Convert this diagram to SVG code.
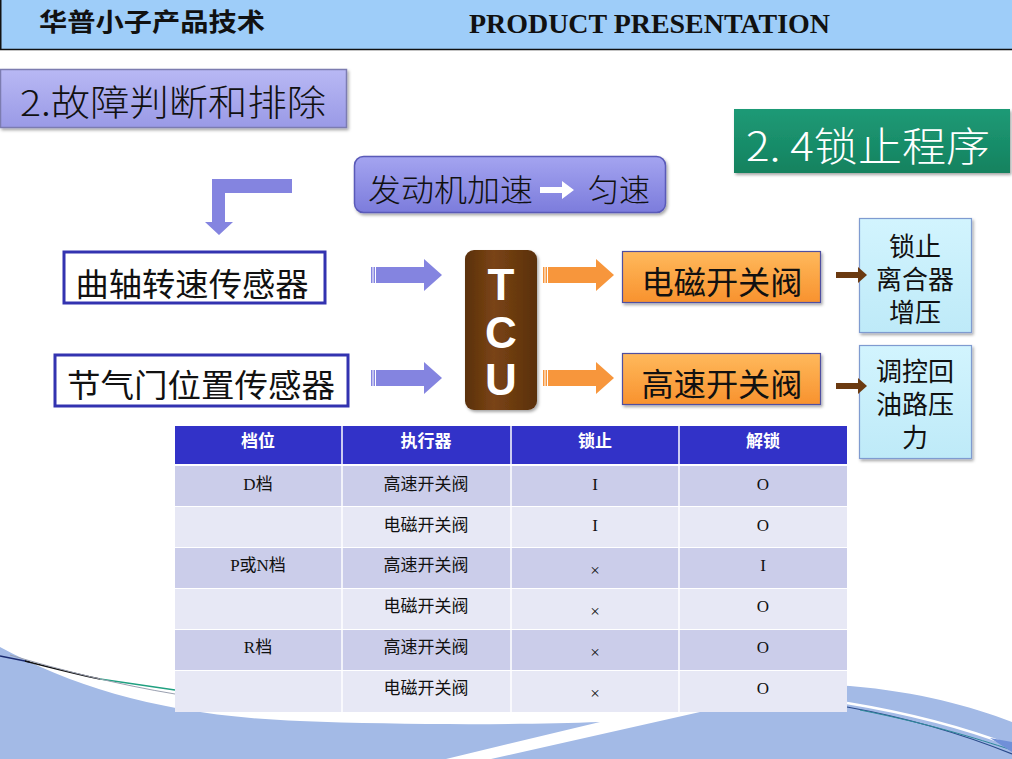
<svg xmlns="http://www.w3.org/2000/svg" width="1012" height="759" viewBox="0 0 1012 759">
<defs>
<style>
.cjk{font-family:"Noto Sans CJK SC","Noto Sans",sans-serif}
.tb{font-family:"Liberation Serif","Noto Sans CJK SC",serif;font-size:17px;text-anchor:middle;fill:#111}
.th{font-family:"Liberation Serif","Noto Sans CJK SC",serif;font-size:17px;font-weight:bold;text-anchor:middle;fill:#fff}
.dark{fill:#CBCDEA}
.light{fill:#E7E8F5}
.blueArrow{fill:#8484E0}
.orangeArrow{fill:#F7963C}
.brownArrow{fill:#6B3A10}
.sensor{fill:#fff;stroke:#3333B0;stroke-width:3}
.valve{fill:url(#gOrange);stroke:#4F4FA0;stroke-width:1.2}
.result{fill:url(#gCyan);stroke:#7F9BD0;stroke-width:1.2}
.big{font-size:32px;text-anchor:middle;fill:#111}
.res{font-size:26px;text-anchor:middle;fill:#111}
</style>
<linearGradient id="gLav" x1="0" y1="0" x2="0" y2="1">
<stop offset="0" stop-color="#B8B8F4"/><stop offset="1" stop-color="#9A9AE6"/>
</linearGradient>
<linearGradient id="gLav2" x1="0" y1="0" x2="0" y2="1">
<stop offset="0" stop-color="#A4A4F0"/><stop offset="1" stop-color="#7C7CDC"/>
</linearGradient>
<linearGradient id="gOrange" x1="0" y1="0" x2="0" y2="1">
<stop offset="0" stop-color="#FFB95C"/><stop offset="1" stop-color="#F8922E"/>
</linearGradient>
<linearGradient id="gCyan" x1="0" y1="0" x2="0" y2="1">
<stop offset="0" stop-color="#D2F4FE"/><stop offset="1" stop-color="#BEEAF8"/>
</linearGradient>
<linearGradient id="gBrown" x1="0" y1="0" x2="1" y2="0">
<stop offset="0" stop-color="#5A300C"/><stop offset="0.4" stop-color="#7A4414"/><stop offset="1" stop-color="#5A300C"/>
</linearGradient>
<linearGradient id="gGreen" x1="0" y1="0" x2="0" y2="1">
<stop offset="0" stop-color="#1E9A76"/><stop offset="1" stop-color="#14825F"/>
</linearGradient>
<filter id="sh" x="-10%" y="-10%" width="130%" height="140%">
<feDropShadow dx="1.5" dy="2" stdDeviation="1.5" flood-color="#000" flood-opacity="0.35"/>
</filter>
</defs>

<rect width="1012" height="759" fill="#fff"/>

<!-- bottom decoration -->
<g id="wave">
<path d="M0,647 C80,690 170,716 300,721 C400,725 520,725 600,722 L446,759 L0,759 Z" fill="#A3BAE6"/>
<path d="M491,759 L700,712 L720,696 C770,686 820,684 850,686 C920,692 970,706 1012,722 L1012,759 Z" fill="#A3BAE6"/>
<path d="M847,703 C920,715 970,730 1012,746" fill="none" stroke="#fff" stroke-width="2.5"/>
<path d="M847,707 C920,720 970,737 1012,754" fill="none" stroke="#2A4A8A" stroke-width="1.2"/>
<path d="M860,710 C930,724 975,738 1012,750" fill="none" stroke="#2E8A9A" stroke-width="1"/>
<path d="M990,738 L1012,742 L1012,752 Z" fill="#7090D8"/>
<path d="M0,656 L30,662" stroke="#1A2A70" stroke-width="1.5" fill="none"/>
<path d="M25,661 C60,670 85,676 100,679" stroke="#111" stroke-width="1.5" fill="none"/>
<path d="M100,679 L175,690" stroke="#20A080" stroke-width="1.3" fill="none"/>
<path d="M10,655 C60,670 120,685 175,694" stroke="#9AA0B0" stroke-width="1" fill="none"/>
</g>

<!-- header -->
<g id="header">
<rect x="0" y="0" width="1012" height="49" fill="#9ECDF9"/>
<line x1="0" y1="49.5" x2="1012" y2="49.5" stroke="#111" stroke-width="1.5"/>
<line x1="0.75" y1="0" x2="0.75" y2="50" stroke="#111" stroke-width="1.5"/>
<text x="39" y="31" class="cjk" font-size="25" font-weight="bold" fill="#111" textLength="226" lengthAdjust="spacingAndGlyphs">华普小子产品技术</text>
<text x="469" y="33" font-family="Liberation Serif, serif" font-size="27" font-weight="bold" fill="#111" textLength="361" lengthAdjust="spacingAndGlyphs">PRODUCT PRESENTATION</text>
</g>

<g id="section-title">
<rect x="0.5" y="69.5" width="346" height="58" fill="url(#gLav)" stroke="#7C7CB0" stroke-width="1.5" filter="url(#sh)"/>
<text x="20" y="116" class="cjk" font-size="36" font-weight="300" fill="#111" textLength="306" lengthAdjust="spacingAndGlyphs">2.故障判断和排除</text>
</g>

<g id="subtitle">
<rect x="734" y="109" width="276" height="64" fill="url(#gGreen)" filter="url(#sh)"/>
<text x="746" y="161" class="cjk" font-size="40" font-weight="300" fill="#fff" textLength="244" lengthAdjust="spacingAndGlyphs">2. 4锁止程序</text>
</g>

<g id="condition">
<rect x="354.5" y="156.5" width="311" height="56" rx="9" fill="url(#gLav2)" stroke="#5A5AB8" stroke-width="1.5" filter="url(#sh)"/>
<text x="368" y="201" class="cjk" font-size="31" font-weight="300" fill="#111" textLength="165" lengthAdjust="spacingAndGlyphs">发动机加速</text>
<path d="M540,187 L562,187 L562,181 L574,190 L562,199 L562,193 L540,193 Z" fill="#fff"/>
<text x="588" y="201" class="cjk" font-size="31" font-weight="300" fill="#111" textLength="62" lengthAdjust="spacingAndGlyphs">匀速</text>
</g>

<g id="sensor-crank">
<rect x="64" y="252" width="261" height="51" class="sensor"/>
<text x="192" y="296" class="cjk big" textLength="233" lengthAdjust="spacingAndGlyphs">曲轴转速传感器</text>
</g>
<g id="sensor-throttle">
<rect x="55" y="355" width="293" height="51" class="sensor"/>
<text x="201" y="397" class="cjk big" textLength="268" lengthAdjust="spacingAndGlyphs">节气门位置传感器</text>
</g>

<g id="tcu">
<rect x="465" y="250" width="72" height="160" rx="9" fill="url(#gBrown)" filter="url(#sh)"/>
<g font-family="Liberation Sans, Arial, sans-serif" font-size="44" font-weight="bold" fill="#fff" text-anchor="middle">
<text x="501" y="300">T</text>
<text x="501" y="348">C</text>
<text x="501" y="395">U</text>
</g>
</g>

<g id="valve-solenoid">
<rect x="622.5" y="251.5" width="198" height="51" class="valve" filter="url(#sh)"/>
<text x="722" y="294" class="cjk big" textLength="161" lengthAdjust="spacingAndGlyphs">电磁开关阀</text>
</g>
<g id="valve-highspeed">
<rect x="622.5" y="353.5" width="198" height="51" class="valve" filter="url(#sh)"/>
<text x="722" y="396" class="cjk big" textLength="161" lengthAdjust="spacingAndGlyphs">高速开关阀</text>
</g>

<g id="result-lockup">
<rect x="859.5" y="218.5" width="112" height="114" class="result" filter="url(#sh)"/>
<text class="cjk res" x="915" y="256"><tspan x="915" y="256">锁止</tspan><tspan x="915" y="289">离合器</tspan><tspan x="915" y="322">增压</tspan></text>
</g>
<g id="result-oil">
<rect x="859.5" y="345.5" width="112" height="113" class="result" filter="url(#sh)"/>
<text class="cjk res" x="915" y="381"><tspan x="915" y="381">调控回</tspan><tspan x="915" y="414">油路压</tspan><tspan x="915" y="447">力</tspan></text>
</g>

<!-- connectors -->
<g id="connectors">
<path class="blueArrow" d="M212,179 L292,179 L292,193 L225,193 L225,222 L233,222 L219,235 L205,222 L212,222 Z"/>
<g class="blueArrow">
<rect x="371" y="267" width="1.5" height="16"/><rect x="373.5" y="267" width="1.5" height="16"/>
<path d="M376,267 L424,267 L424,259 L442,275 L424,291 L424,283 L376,283 Z"/>
<rect x="371" y="370" width="1.5" height="16"/><rect x="373.5" y="370" width="1.5" height="16"/>
<path d="M376,370 L424,370 L424,362 L442,378 L424,394 L424,386 L376,386 Z"/>
</g>
<g class="orangeArrow">
<rect x="543" y="267" width="1.5" height="16"/><rect x="545.5" y="267" width="1.5" height="16"/>
<path d="M548,267 L596,267 L596,259 L614,275 L596,291 L596,283 L548,283 Z"/>
<rect x="543" y="370" width="1.5" height="16"/><rect x="545.5" y="370" width="1.5" height="16"/>
<path d="M548,370 L596,370 L596,362 L614,378 L596,394 L596,386 L548,386 Z"/>
</g>
<g class="brownArrow">
<path d="M836,272 L858,272 L858,267 L867,275 L858,283 L858,278 L836,278 Z"/>
<path d="M836,383 L858,383 L858,378 L867,386 L858,394 L858,389 L836,389 Z"/>
</g>
</g>

<!-- table -->
<g id="table">
<rect x="175" y="426" width="672" height="38" fill="#3232C8"/>
<rect x="175" y="466" width="672" height="40" class="dark"/>
<rect x="175" y="507" width="672" height="40" class="light"/>
<rect x="175" y="548" width="672" height="40" class="dark"/>
<rect x="175" y="589" width="672" height="40" class="light"/>
<rect x="175" y="630" width="672" height="40" class="dark"/>
<rect x="175" y="671" width="672" height="41" class="light"/>
<g stroke="#fff" stroke-width="1.5">
<line x1="342" y1="426" x2="342" y2="712"/>
<line x1="511" y1="426" x2="511" y2="712"/>
<line x1="679" y1="426" x2="679" y2="712"/>
</g>
<text x="258" y="447" class="th">档位</text>
<text x="426" y="447" class="th">执行器</text>
<text x="595" y="447" class="th">锁止</text>
<text x="763" y="447" class="th">解锁</text>

<text x="258" y="490" class="tb">D档</text>
<text x="426" y="490" class="tb">高速开关阀</text>
<text x="595" y="490" class="tb">I</text>
<text x="763" y="490" class="tb">O</text>

<text x="426" y="531" class="tb">电磁开关阀</text>
<text x="595" y="531" class="tb">I</text>
<text x="763" y="531" class="tb">O</text>

<text x="258" y="571" class="tb">P或N档</text>
<text x="426" y="571" class="tb">高速开关阀</text>
<text x="595" y="576" class="tb">×</text>
<text x="763" y="571" class="tb">I</text>

<text x="426" y="612" class="tb">电磁开关阀</text>
<text x="595" y="617" class="tb">×</text>
<text x="763" y="612" class="tb">O</text>

<text x="258" y="653" class="tb">R档</text>
<text x="426" y="653" class="tb">高速开关阀</text>
<text x="595" y="658" class="tb">×</text>
<text x="763" y="653" class="tb">O</text>

<text x="426" y="694" class="tb">电磁开关阀</text>
<text x="595" y="699" class="tb">×</text>
<text x="763" y="694" class="tb">O</text>
</g>
</svg>
